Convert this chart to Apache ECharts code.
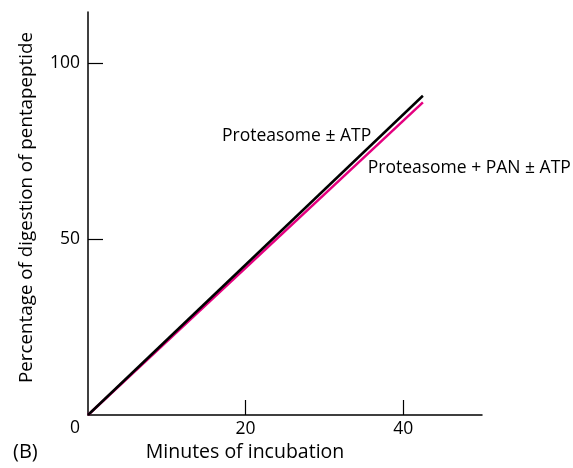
<!DOCTYPE html>
<html>
<head>
<meta charset="utf-8">
<script src="https://cdn.jsdelivr.net/npm/echarts@6/dist/echarts.min.js"></script>
<style>html,body{margin:0;padding:0;background:#fff}#c{width:573px;height:468px}</style>
</head>
<body>
<div id="c"></div>
<script>
// Data
const seriesNames = ['Proteasome \u00b1 ATP', 'Proteasome + PAN \u00b1 ATP'];
const minutes = [0, 42.5];
const proteasome = [0, 90.7];
const proteasomePan = [0, 88.8];
const xTicks = [20, 40];
const yTicks = [50, 100];
const labelAnchors = [[17.0, 79.5], [35.5, 70.5]];

const FONT = 'Open Sans';
const chart = echarts.init(document.getElementById('c'), null, {renderer: 'canvas'});
const axisCommon = {
  type: 'value',
  axisLine: {show: true, lineStyle: {color: '#000', width: 1.5}},
  splitLine: {show: false},
  axisTick: {show: true, inside: true, length: 15, lineStyle: {color: '#000', width: 1.2}},
  axisLabel: {color: '#000', fontFamily: FONT, fontSize: 17.5},
  nameTextStyle: {color: '#000', fontFamily: FONT, fontSize: 19.5}
};
const option = {
  animation: false,
  grid: {left: 88, right: 91, top: 12, bottom: 53},
  xAxis: Object.assign({}, axisCommon, {
    min: 0, max: 50,
    axisTick: Object.assign({}, axisCommon.axisTick, {customValues: xTicks}),
    axisLabel: Object.assign({}, axisCommon.axisLabel, {customValues: xTicks, margin: 5}),
    name: 'Minutes of incubation', nameLocation: 'middle', nameGap: 27,
    nameTextStyle: Object.assign({}, axisCommon.nameTextStyle, {padding: [0, 80, 0, 0]})
  }),
  yAxis: Object.assign({}, axisCommon, {
    min: 0, max: 114.5,
    axisTick: Object.assign({}, axisCommon.axisTick, {customValues: yTicks}),
    axisLabel: Object.assign({}, axisCommon.axisLabel, {customValues: yTicks, margin: 8}),
    name: 'Percentage of digestion of pentapeptide', nameLocation: 'middle', nameGap: 52,
    nameTextStyle: Object.assign({}, axisCommon.nameTextStyle, {fontSize: 18.8, padding: [0, 0, 0, 12]})
  }),
  series: [
    {name: seriesNames[0], type: 'line', symbol: 'none', data: minutes.map((m, i) => [m, proteasome[i]]),
     lineStyle: {color: '#000', width: 2.5}, z: 3},
    {name: seriesNames[1], type: 'line', symbol: 'none', data: minutes.map((m, i) => [m, proteasomePan[i]]),
     lineStyle: {color: '#e4007f', width: 2.5}, z: 2}
  ]
};
chart.setOption(option);
const g = labelAnchors.map((a, i) => {
  const p = chart.convertToPixel({gridIndex: 0}, a);
  return {type: 'text', left: p[0], top: p[1] - 8,
    style: {text: seriesNames[i], fontFamily: FONT, fontSize: 17.5, fill: '#000'}};
});
const o = chart.convertToPixel({gridIndex: 0}, [0, 0]);
g.push({type: 'text', left: o[0] - 18, top: o[1] + 4, style: {text: '0', fontFamily: FONT, fontSize: 17.5, fill: '#000'}});
g.push({type: 'text', left: 13, top: 442, style: {text: '(B)', fontFamily: FONT, fontSize: 20, fill: '#000'}});
chart.setOption({graphic: g});
</script>
</body>
</html>
